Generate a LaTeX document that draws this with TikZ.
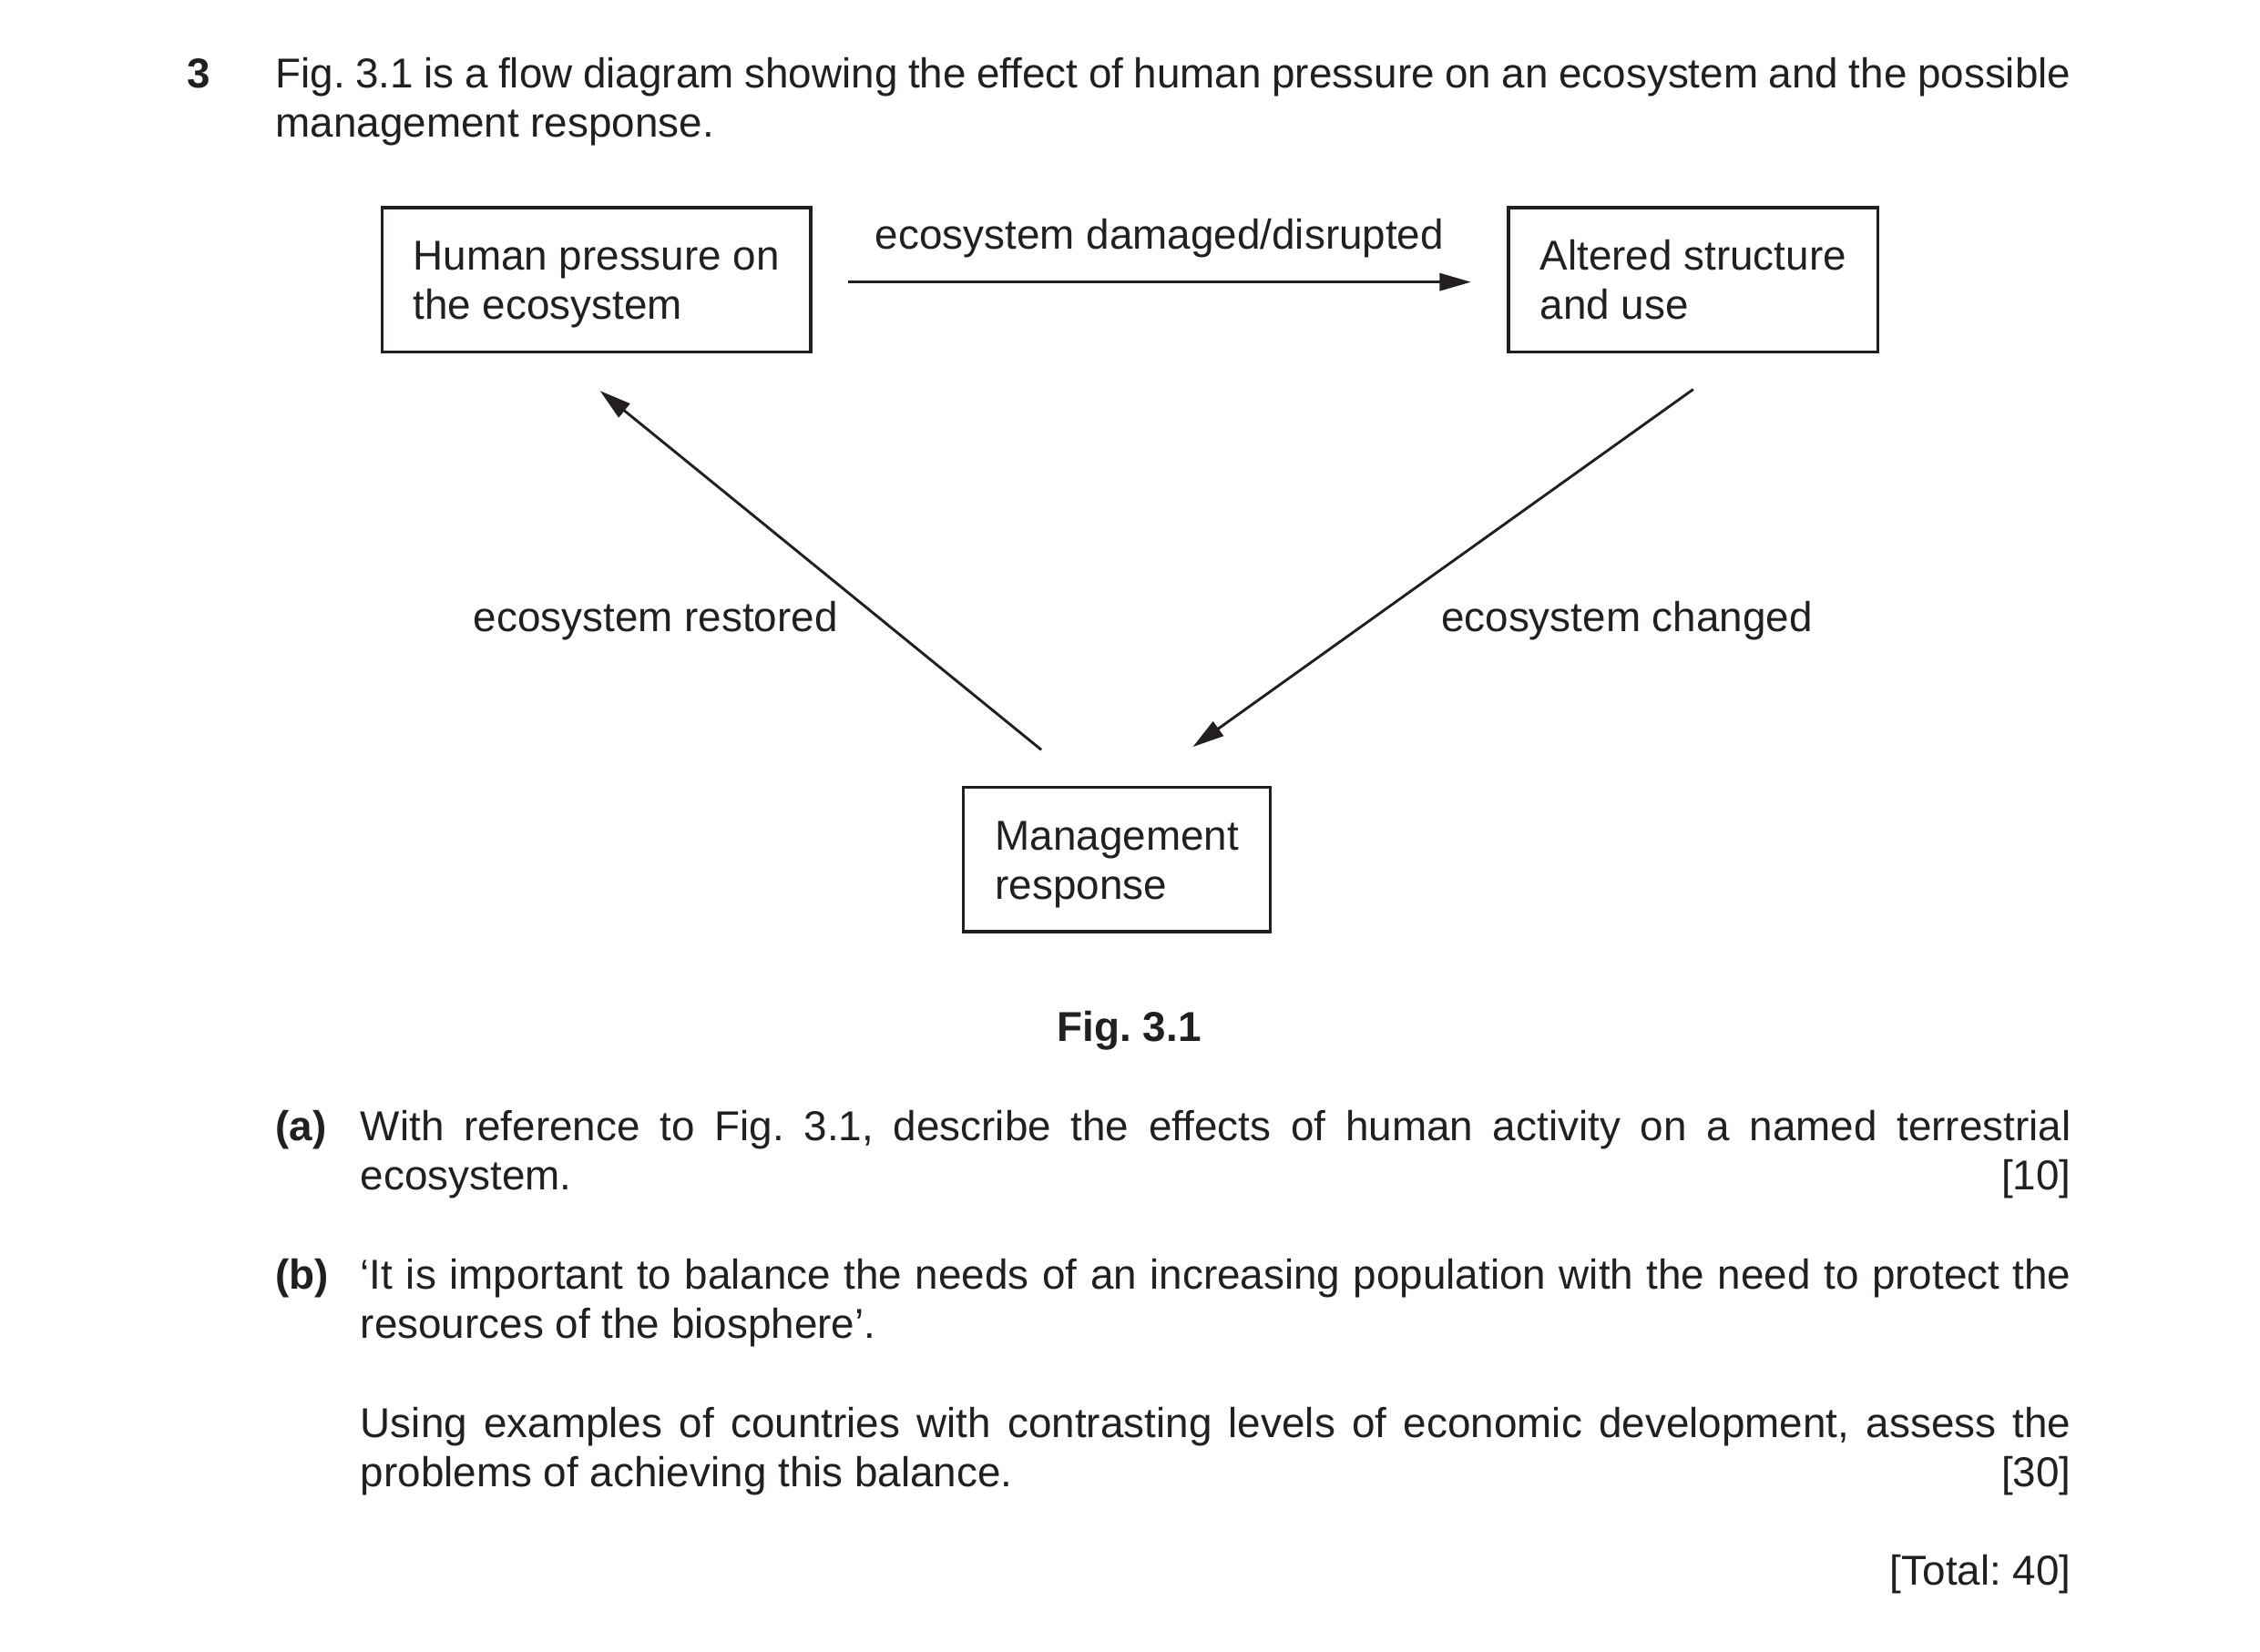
\documentclass[tikz,border=0pt]{standalone}
\usepackage{fontspec}
\setmainfont{Liberation Sans}
\usetikzlibrary{arrows.meta,calc}
\definecolor{ink}{HTML}{231F20}
\frenchspacing
\begin{document}
\begin{tikzpicture}[x=0.38pt,y=-0.38pt,
  every node/.style={inner sep=0pt, outer sep=0pt, text=ink, font=\fontsize{11pt}{13pt}\selectfont},
  txt/.style={anchor=base west},
  rtxt/.style={anchor=base east},
  box/.style={draw=ink, line width=0.8pt, align=left, minimum height=38pt},
  arr/.style={draw=ink, line width=0.7pt, -{Triangle[length=8.3pt,width=4.6pt]}}]
\fill[white] (0,0) rectangle (1567,1145.7);
\useasboundingbox (0,0) rectangle (1567,1145.7);

% question header
\node[txt] (qnum) at (130,61) {\textbf{3}};
\node[txt] (intro1) at (191,61) {\makebox[473.1pt][s]{Fig. 3.1 is a flow diagram showing the effect of human pressure on an ecosystem and the possible}};
\node[txt] (intro2) at (191,95) {management response.};

% boxes
\node[box, minimum width=112.9pt] (hp) at (413.5,194) {\rule{0pt}{11.8pt}Human pressure on\\the ecosystem\strut};
\node[box, minimum width=97.3pt] (alt) at (1174,194) {\rule{0pt}{11.8pt}Altered structure\\and use\strut};
\node[box, minimum width=80.9pt] (mr) at (774.5,596) {\rule{0pt}{11.8pt}Management\\response\strut};

% connectors
\draw[arr, shorten <=9.9pt, shorten >=9.9pt, transform canvas={yshift=-0.6pt}] (hp.east) -- (alt.west);
\node[anchor=base] (ldam) at ($(hp.east)!0.5!(alt.west)+(0,-21)$) {ecosystem damaged/disrupted};

\coordinate (rs) at ($(mr.north)+(-52.5,-26)$);
\coordinate (re) at ($(hp.south)+(2.5,27)$);
\draw[arr] (rs) -- (re);

\coordinate (cs) at ($(alt.south)+(0,26)$);
\coordinate (ce) at ($(mr.north)+(52.5,-28)$);
\draw[arr] (cs) -- (ce);

\node[anchor=base] (lres) at (454.5,438) {ecosystem restored};
\node[anchor=base] (lchg) at (1128,438) {ecosystem changed};

\node[anchor=base] (fig) at (783,722) {\textbf{Fig. 3.1}};

% part (a)
\node[txt] (pa) at (191,791) {\textbf{(a)}};
\node[txt] (a1) at (250,791) {\makebox[450.7pt][s]{With reference to Fig. 3.1, describe the effects of human activity on a named terrestrial}};
\node[txt] (a2) at (250,825) {ecosystem.};
\node[rtxt] (am) at (1436,825) {[10]};

% part (b)
\node[txt] (pb) at (191,894) {\textbf{(b)}};
\node[txt] (b1) at (250,894) {\makebox[450.7pt][s]{‘It is important to balance the needs of an increasing population with the need to protect the}};
\node[txt] (b2) at (250,928) {resources of the biosphere’.};
\node[txt] (b3) at (250,997) {\makebox[450.7pt][s]{Using examples of countries with contrasting levels of economic development, assess the}};
\node[txt] (b4) at (250,1031) {problems of achieving this balance.};
\node[rtxt] (bm) at (1436,1031) {[30]};

\node[rtxt] (tot) at (1436,1099) {[Total: 40]};
\end{tikzpicture}
\end{document}
